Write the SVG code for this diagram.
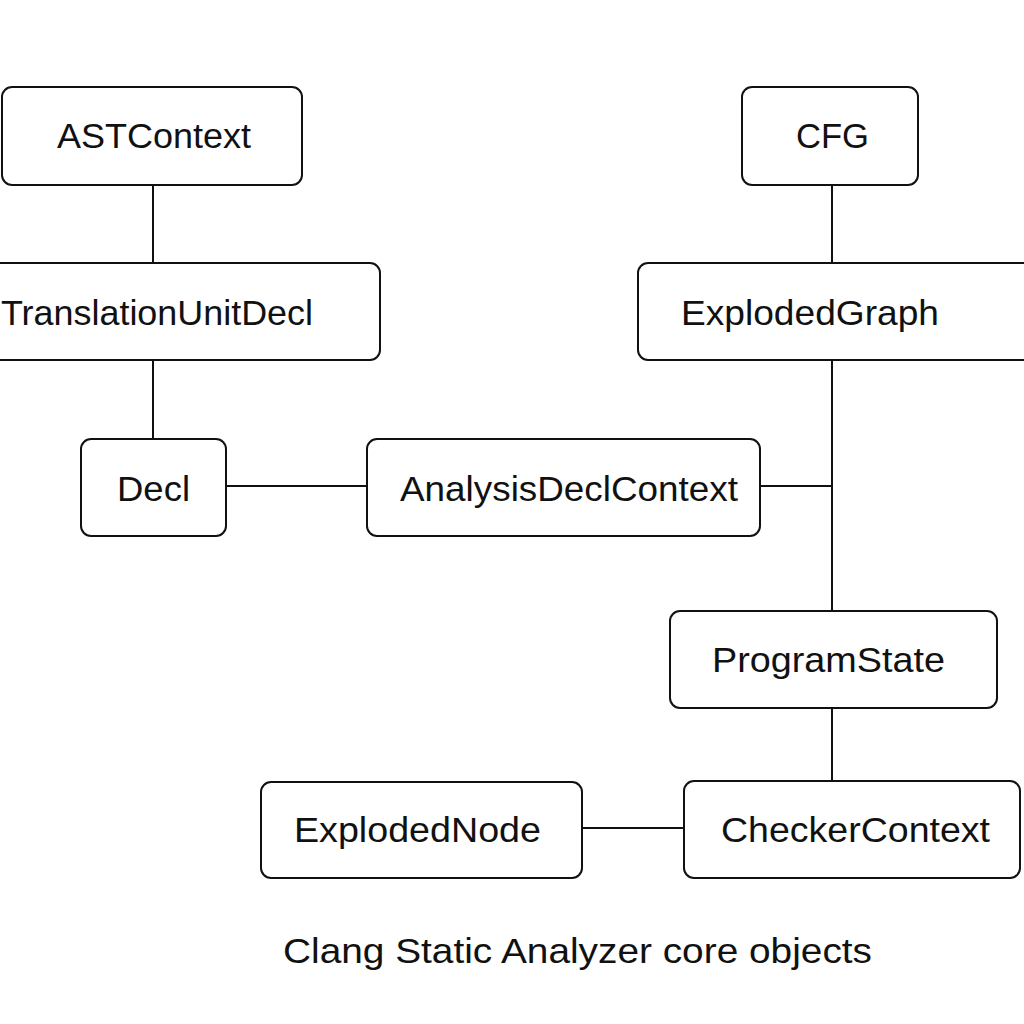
<svg xmlns="http://www.w3.org/2000/svg" width="1024" height="1024" viewBox="0 0 1024 1024">
<style>
.box{fill:#fff;stroke:#111;stroke-width:2}
.lbl{font-family:"Liberation Sans",Arial,sans-serif;font-size:35px;fill:#111}
.cap{font-family:"Liberation Sans",Arial,sans-serif;font-size:35px;fill:#111}
.con{stroke:#111;stroke-width:2;fill:none}
</style>
<rect width="1024" height="1024" fill="#fff"/>
<g id="connectors">
<line class="con" x1="153" y1="185" x2="153" y2="263"/>
<line class="con" x1="153" y1="360" x2="153" y2="439"/>
<line class="con" x1="226" y1="486" x2="367" y2="486"/>
<line class="con" x1="760" y1="486" x2="832" y2="486"/>
<line class="con" x1="832" y1="185" x2="832" y2="263"/>
<line class="con" x1="832" y1="360" x2="832" y2="611"/>
<line class="con" x1="832" y1="708" x2="832" y2="781"/>
<line class="con" x1="582" y1="828" x2="684" y2="828"/>
</g>
<g id="ASTContext">
<rect class="box" x="2" y="87" width="300" height="98" rx="10"/>
<text class="lbl" x="57" y="148" textLength="194" lengthAdjust="spacingAndGlyphs">ASTContext</text>
</g>
<g id="TranslationUnitDecl">
<rect class="box" x="-20" y="263" width="400" height="97" rx="10"/>
<text class="lbl" x="1" y="325" textLength="312" lengthAdjust="spacingAndGlyphs">TranslationUnitDecl</text>
</g>
<g id="Decl">
<rect class="box" x="81" y="439" width="145" height="97" rx="10"/>
<text class="lbl" x="117" y="501" textLength="73" lengthAdjust="spacingAndGlyphs">Decl</text>
</g>
<g id="AnalysisDeclContext">
<rect class="box" x="367" y="439" width="393" height="97" rx="10"/>
<text class="lbl" x="400" y="501" textLength="338" lengthAdjust="spacingAndGlyphs">AnalysisDeclContext</text>
</g>
<g id="CFG">
<rect class="box" x="742" y="87" width="176" height="98" rx="10"/>
<text class="lbl" x="796" y="148" textLength="73" lengthAdjust="spacingAndGlyphs">CFG</text>
</g>
<g id="ExplodedGraph">
<rect class="box" x="638" y="263" width="400" height="97" rx="10"/>
<text class="lbl" x="681" y="325" textLength="258" lengthAdjust="spacingAndGlyphs">ExplodedGraph</text>
</g>
<g id="ProgramState">
<rect class="box" x="670" y="611" width="327" height="97" rx="10"/>
<text class="lbl" x="712" y="672" textLength="233" lengthAdjust="spacingAndGlyphs">ProgramState</text>
</g>
<g id="CheckerContext">
<rect class="box" x="684" y="781" width="336" height="97" rx="10"/>
<text class="lbl" x="721" y="842" textLength="269" lengthAdjust="spacingAndGlyphs">CheckerContext</text>
</g>
<g id="ExplodedNode">
<rect class="box" x="261" y="782" width="321" height="96" rx="10"/>
<text class="lbl" x="294" y="842" textLength="247" lengthAdjust="spacingAndGlyphs">ExplodedNode</text>
</g>
<text class="cap" x="283" y="963" textLength="589" lengthAdjust="spacingAndGlyphs">Clang Static Analyzer core objects</text>
</svg>
